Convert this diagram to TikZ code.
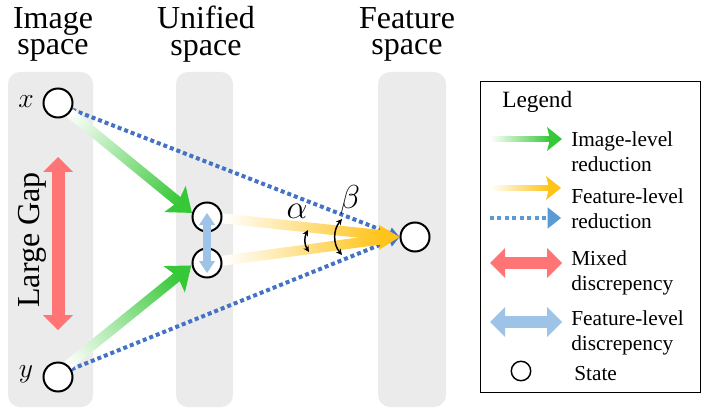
\documentclass[tikz,border=0pt]{standalone}
\usepackage{fontspec}
\setmainfont{Liberation Serif}
\usetikzlibrary{calc,arrows.meta}

\definecolor{colgray}{RGB}{235,235,235}
\definecolor{colgreen}{RGB}{55,200,55}
\definecolor{colgold}{RGB}{255,195,25}
\definecolor{colblue}{RGB}{68,114,196}
\definecolor{collegblue}{RGB}{91,155,213}
\definecolor{collightblue}{RGB}{157,195,230}
\definecolor{colred}{RGB}{255,117,117}

\pgfdeclarelayer{back}
\pgfsetlayers{back,main}

% shaded arrow: from, to, colour, shaft half width, head length, head half width (px)
\newcommand{\fadearrow}[6]{%
  \path (#1) coordinate (fa-s) (#2) coordinate (fa-e);
  \pgfpointdiff{\pgfpointanchor{fa-s}{center}}{\pgfpointanchor{fa-e}{center}}%
  \pgfgetlastxy{\fadx}{\fady}%
  \pgfmathsetmacro{\falen}{veclen(\fadx,\fady)/0.75}%
  \pgfmathsetmacro{\faang}{atan2(\fady,\fadx)}%
  \begin{scope}[transform canvas={shift={(fa-s)},rotate=\faang},x=0.75pt,y=0.75pt]
    \shade[left color=white,right color=#3] (0,-#4) rectangle ({\falen-0.8*#5},#4);
    \fill[#3] (\falen,0) -- ({\falen-#5},#6) -- ({\falen-0.8*#5},0) -- ({\falen-#5},-#6) -- cycle;
  \end{scope}}

\tikzset{
  column/.style={fill=colgray,rounded corners=9pt},
  title/.style={font=\fontsize{24}{20}\selectfont,align=center,anchor=north,inner sep=0pt},
  state/.style={circle,draw,line width=1.5pt,fill=white,minimum size=21.75pt,inner sep=0pt},
  legtext/.style={font=\fontsize{16}{18.75}\selectfont,align=left,anchor=north west,inner sep=0pt},
  dotarrow/.style={draw=colblue,line width=3pt,dash pattern=on 3pt off 2.25pt,-{Triangle[length=8pt,width=9pt,line width=0pt]}},
  gaparrow/.style={draw=colred,line width=9.75pt,{Triangle[length=11.25pt,width=22.5pt,line width=0pt]}-{Triangle[length=11.25pt,width=22.5pt,line width=0pt]}},
  discarrow/.style={draw=collightblue,line width=6pt,{Triangle[length=9pt,width=12pt,line width=0pt]}-{Triangle[length=9pt,width=12pt,line width=0pt]}},
  anglearc/.style={line width=1.1pt,{Stealth[length=4.5pt,width=4.5pt]}-{Stealth[length=4.5pt,width=4.5pt]}}
}

\begin{document}
\begin{tikzpicture}[x=0.75pt,y=-0.75pt]
\useasboundingbox (0,0) rectangle (712,413);
% states
\node[state] (xs) at (58,103) {};
\node[state] (ys) at (58,377) {};
\node[state] (ut) at (207,217) {};
\node[state] (ub) at (207,263) {};
\node[state] (fs) at (415,237) {};
\begin{pgfonlayer}{back}
\foreach \a/\b in {8/93,176/233,378/446} { \fill[column] (\a,72) rectangle (\b,407); }
\draw[dotarrow] (xs.-25) -- (fs.west);
\draw[dotarrow] (ys.30) -- (fs.west);
\fadearrow{xs.-40}{ut.165}{colgreen}{5}{22}{17}
\fadearrow{ys.50}{ub.188}{colgreen}{5}{22}{17}
\fadearrow{ut.-5}{fs.west}{colgold}{5}{22}{10}
\fadearrow{ub.8}{fs.west}{colgold}{5}{22}{10}
\end{pgfonlayer}
% titles
\node[title] (timg) at (53,7) {Image\\space};
\node[title] (tuni) at (206,6) {Unified\\space};
\node[title] (tfea) at (407,7) {Feature\\space};
% labels
\node[font=\fontsize{20}{24}\selectfont] (xl) at (26,102) {$x$};
\node[font=\fontsize{20}{24}\selectfont] (yl) at (26,374) {$y$};
\node[rotate=90,font=\fontsize{24}{28}\selectfont] (gap) at (32,240) {Large Gap};
\coordinate (gt) at (58,157);
\coordinate (gb) at (58,330);
\draw[gaparrow] (gt) -- (gb);
\coordinate (dt) at (207,213);
\coordinate (db) at (207,273);
\draw[discarrow] (dt) -- (db);
% angles
\coordinate (a1) at (308,230);
\coordinate (a2) at (309,252);
\coordinate (b1) at (342,219);
\coordinate (b2) at (342,255);
\draw[anglearc] (a1) to[bend right=30] (a2);
\draw[anglearc] (b1) to[bend right=40] (b2);
\node[font=\fontsize{24}{28}\selectfont] (al) at (297,211) {$\alpha$};
\node[font=\fontsize{24}{28}\selectfont] (bl) at (350,200) {$\beta$};
% legend
\draw[line width=0.75pt] (480,82) rectangle (700,392);
\node[legtext,font=\fontsize{17.5}{20}\selectfont] (lt) at (502,91) {Legend};
\coordinate (l1a) at (490,139);
\coordinate (l1b) at (562,139);
\fadearrow{l1a}{l1b}{colgreen}{2.5}{15}{12}
\node[legtext] (l1t) at (571,131) {Image-level\\reduction};
\coordinate (l2a) at (490,188);
\coordinate (l2b) at (561,188);
\fadearrow{l2a}{l2b}{colgold}{2.5}{15}{12}
\coordinate (l3a) at (490,218);
\coordinate (l3b) at (561,218);
\draw[dotarrow,draw=collegblue,dash pattern=on 3pt off 2.6pt,-{Triangle[length=10pt,width=16pt,line width=0pt]}] (l3a) -- (l3b);
\node[legtext] (l2t) at (571,188) {Feature-level\\reduction};
\coordinate (l4a) at (490,263);
\coordinate (l4b) at (562,263);
\draw[gaparrow,line width=9pt] (l4a) -- (l4b);
\node[legtext] (l4t) at (571,250) {Mixed\\discrepency};
\coordinate (l5a) at (490,322);
\coordinate (l5b) at (562,322);
\draw[gaparrow,draw=collightblue,line width=9pt] (l5a) -- (l5b);
\node[legtext] (l5t) at (571,310) {Feature-level\\discrepency};
\node[state,line width=1.1pt,minimum size=14.6pt] (l6) at (521,371) {};
\node[legtext] (l6t) at (574,366) {State};
\end{tikzpicture}
\end{document}
